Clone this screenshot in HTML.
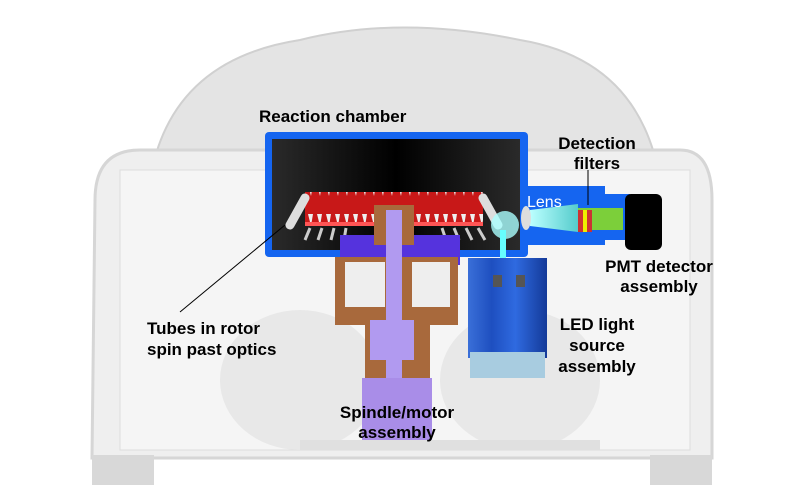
<!DOCTYPE html>
<html><head><meta charset="utf-8"><style>
html,body{margin:0;padding:0;background:#fff}
svg{display:block}
text{font-family:"Liberation Sans",sans-serif;font-weight:bold;font-size:17px;fill:#000}
</style></head><body>
<svg width="811" height="492" viewBox="0 0 811 492">
<defs>
<linearGradient id="blk" x1="0" x2="1"><stop offset="0" stop-color="#2a2a2a"/><stop offset="0.5" stop-color="#000"/><stop offset="1" stop-color="#2a2a2a"/></linearGradient>
<linearGradient id="led" x1="0" x2="1"><stop offset="0" stop-color="#3a6fd8"/><stop offset="0.3" stop-color="#1e4fc0"/><stop offset="0.6" stop-color="#2f6ae0"/><stop offset="1" stop-color="#143a99"/></linearGradient>
<linearGradient id="beam" x1="0" x2="1"><stop offset="0" stop-color="#bff"/><stop offset="1" stop-color="#5cc"/></linearGradient>
<pattern id="tubes" width="9" height="30" patternUnits="userSpaceOnUse"><rect width="9" height="30" fill="#c81818"/><path d="M2 4 L7 4 L5 16 Z" fill="#eee"/></pattern>
</defs>
<g>
<path d="M150 180 Q170 60 300 40 Q400 15 520 40 Q640 60 660 180 Z" fill="#e4e4e4" stroke="#d0d0d0" stroke-width="2"/>
<path d="M95 200 Q95 150 140 150 L680 150 Q712 150 712 200 L712 458 L92 458 Z" fill="#efefef" stroke="#d6d6d6" stroke-width="3"/>
<rect x="120" y="170" width="570" height="280" fill="#f5f5f5" stroke="#ddd"/>
<ellipse cx="300" cy="380" rx="80" ry="70" fill="#e8e8e8"/>
<ellipse cx="520" cy="380" rx="80" ry="70" fill="#e8e8e8"/>
<rect x="92" y="455" width="62" height="30" fill="#d8d8d8"/>
<rect x="650" y="455" width="62" height="30" fill="#d8d8d8"/>
<rect x="300" y="440" width="300" height="10" fill="#e0e0e0"/>
</g>
<g>
<rect x="265" y="132" width="263" height="125" rx="4" fill="#1565f0"/>
<rect x="272" y="139" width="248" height="111" fill="url(#blk)"/>
<rect x="305" y="192" width="178" height="30" fill="url(#tubes)"/>
<path d="M290 225 L305 198 M483 198 L498 225" stroke="#ddd" stroke-width="9" stroke-linecap="round"/>
<rect x="305" y="222" width="178" height="4" fill="#f55"/>
<g stroke="#ccc" stroke-width="3">
<path d="M310 228 L305 240 M322 228 L318 240 M334 228 L331 240 M346 228 L344 240 M442 228 L446 240 M454 228 L459 240 M466 228 L472 240 M478 228 L485 240"/>
</g>
</g>
<g>
<rect x="340" y="235" width="120" height="30" fill="#5533dd"/>
<path d="M335 257 L458 257 L458 325 L430 325 L430 378 L365 378 L365 325 L335 325 Z" fill="#a8693c"/>
<rect x="345" y="262" width="40" height="45" fill="#eee"/>
<rect x="412" y="262" width="38" height="45" fill="#eee"/>
<rect x="374" y="205" width="40" height="40" fill="#a8693c"/>
<rect x="386" y="210" width="16" height="170" fill="#b19af0"/>
<rect x="370" y="320" width="44" height="40" fill="#b19af0"/>
<rect x="362" y="378" width="70" height="62" fill="#a98de8"/>
</g>
<g>
<path d="M520 186 L605 186 L605 194 L630 194 L630 240 L605 240 L605 245 L520 245 Z" fill="#1565f0"/>
<polygon points="530,210 578,204 578,232 530,226" fill="url(#beam)"/>
<rect x="578" y="208" width="45" height="22" fill="#7ccf3a"/>
<rect x="578" y="210" width="14" height="22" fill="#c33"/>
<rect x="583" y="210" width="4" height="22" fill="#ee0"/>
<ellipse cx="526" cy="218" rx="5" ry="12" fill="#ddd"/>
<circle cx="505" cy="225" r="14" fill="#aff" opacity="0.8"/>
<rect x="500" y="230" width="6" height="42" fill="#6ff"/>
</g>
<rect x="625" y="194" width="37" height="56" rx="6" fill="#000"/>
<g>
<rect x="468" y="258" width="79" height="100" fill="url(#led)"/>
<rect x="470" y="352" width="75" height="26" fill="#a8cce0"/>
<rect x="493" y="275" width="9" height="12" fill="#555"/>
<rect x="516" y="275" width="9" height="12" fill="#555"/>
</g>
<text x="259" y="122">Reaction chamber</text>
<text x="597" y="149" text-anchor="middle"><tspan x="597">Detection</tspan><tspan x="597" dy="20">filters</tspan></text>
<line x1="588" y1="170" x2="588" y2="205" stroke="#000"/>
<text x="527" y="207" style="fill:#fff;font-weight:normal;font-size:16px">Lens</text>
<text x="659" y="272" text-anchor="middle"><tspan x="659">PMT detector</tspan><tspan x="659" dy="20">assembly</tspan></text>
<text x="597" y="330" text-anchor="middle"><tspan x="597">LED light</tspan><tspan x="597" dy="21">source</tspan><tspan x="597" dy="21">assembly</tspan></text>
<text x="147" y="334"><tspan x="147">Tubes in rotor</tspan><tspan x="147" dy="21">spin past optics</tspan></text>
<line x1="180" y1="312" x2="285" y2="225" stroke="#000"/>
<text x="397" y="418" text-anchor="middle"><tspan x="397">Spindle/motor</tspan><tspan x="397" dy="20">assembly</tspan></text>
</svg>
</body></html>
